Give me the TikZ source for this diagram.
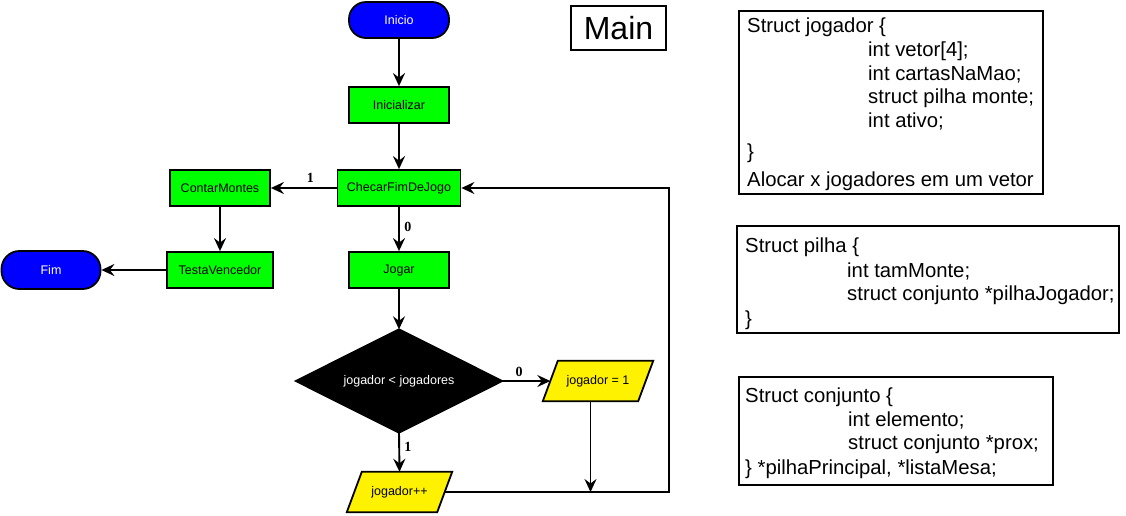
\documentclass[tikz,border=0pt]{standalone}
\usepackage{fontspec}
\setmainfont{Liberation Sans}
\newfontfamily\lblfont{Liberation Serif}
\usetikzlibrary{shapes.geometric,arrows.meta,calc}
\pgfdeclarelayer{bg}
\pgfsetlayers{bg,main}
\tikzset{
  base/.style={draw=black,line width=1.8pt,font=\fontsize{12.5}{14}\selectfont,inner sep=0pt},
  term/.style={base,fill=blue,text=white,rounded corners=17pt,minimum width=100,minimum height=36},
  proc/.style={base,fill=green,minimum height=36},
  dec/.style={font=\fontsize{12.5}{14}\selectfont,text=white,inner sep=0pt,minimum width=206,minimum height=103},
  decfill/.style={draw=black,line width=1.8pt,fill=black},
  io/.style={font=\fontsize{12.5}{14}\selectfont,inner sep=0pt,minimum height=40},
  iofill/.style={draw=black,line width=1.8pt,fill=yellow},
  conn/.style={line width=1.9pt,-{Stealth[length=13pt,width=12pt,inset=4.5pt]}},
  lbl/.style={font=\lblfont\bfseries\fontsize{14}{16}\selectfont},
  sbox/.style={draw=black,line width=1.8pt,fill=none},
  stxt/.style={font=\fontsize{20.3}{23}\selectfont,anchor=base west,inner sep=0pt}
}
\begin{document}
\begin{tikzpicture}[x=1pt,y=-1pt]
\useasboundingbox (0,0) rectangle (1126,515);
% flowchart nodes
\node[term] (ini) at (399,20) {Inicio};
\node[proc,minimum width=100] (init) at (399,105) {Inicializar};
\node[proc,minimum width=123] (chk) at (399,188) {ChecarFimDeJogo};
\node[proc,minimum width=100] (cnt) at (220,188) {ContarMontes};
\node[proc,minimum width=106] (tst) at (220,270) {TestaVencedor};
\node[term,minimum width=99,minimum height=38,rounded corners=18pt] (fim) at (51,270) {Fim};
\node[proc,minimum width=100] (jog) at (399,270) {Jogar};
\node[dec] (dia) at (399,381) {jogador < jogadores};
\node[io,minimum width=95] (j1) at (598,381) {jogador = 1};
\node[io,minimum width=90] (jpp) at (399.5,492) {jogador++};
\begin{pgfonlayer}{bg}
\fill[white] (0,0) rectangle (1126,515);
\draw[decfill] (dia.north) -- (dia.east) -- (dia.south) -- (dia.west) -- cycle;
\draw[iofill] ($(j1.north west)+(7.5,0)$) -- ($(j1.north east)+(7.5,0)$) -- ($(j1.south east)+(-7.5,0)$) -- ($(j1.south west)+(-7.5,0)$) -- cycle;
\draw[iofill] ($(jpp.north west)+(7.5,0)$) -- ($(jpp.north east)+(7.5,0)$) -- ($(jpp.south east)+(-7.5,0)$) -- ($(jpp.south west)+(-7.5,0)$) -- cycle;
\end{pgfonlayer}
\coordinate (j1b) at ($(j1.south)+(-7.5,0)$);
\coordinate (m) at (j1b |- jpp.east);
\coordinate (c1) at (669,492);
% connectors
\draw[conn] (ini) -- (init);
\draw[conn] (init) -- (chk);
\draw[conn] (chk) -- node[lbl,above=1pt,pos=0.4] {1} (cnt);
\draw[conn] (chk) -- node[lbl,right=1pt,pos=0.45] {0} (jog);
\draw[conn] (cnt) -- (tst);
\draw[conn] (tst) -- (fim);
\draw[conn] (jog) -- (dia.north);
\draw[conn] (dia.east) -- node[lbl,above=0pt,pos=0.35] {0} (j1.west);
\draw[conn] (dia.south) -- node[lbl,right=1pt,pos=0.35] {1} (jpp.north);
\draw[conn] (j1b) -- (m);
\draw[conn] (jpp.east) -- (c1) |- (chk.east);
% Main
\node[sbox,minimum width=95,minimum height=44,inner sep=0pt,font=\fontsize{32}{34}\selectfont] (main) at (618.5,28) {Main};
% struct boxes
\node[sbox,minimum width=304,minimum height=183,inner sep=0pt] (sj) at (891,102.5) {};
\node[stxt] (sj1) at (747,32) {Struct jogador \{};
\node[stxt] (sj2) at (868,56) {int vetor[4];};
\node[stxt] (sj3) at (868,80) {int cartasNaMao;};
\node[stxt] (sj4) at (868,103) {struct pilha monte;};
\node[stxt] (sj5) at (868,127) {int ativo;};
\node[stxt] (sj6) at (747,158) {\}};
\node[stxt] (sj7) at (747,186) {Alocar x jogadores em um vetor};
\node[sbox,minimum width=382,minimum height=107,inner sep=0pt] (sp) at (928,279.5) {};
\node[stxt] (sp1) at (745,252) {Struct pilha \{};
\node[stxt] (sp2) at (847,277) {int tamMonte;};
\node[stxt] (sp3) at (847,300) {struct conjunto *pilhaJogador;};
\node[stxt] (sp4) at (745,325) {\}};
\node[sbox,minimum width=314,minimum height=108,inner sep=0pt] (sc) at (896,431) {};
\node[stxt] (sc1) at (745,402) {Struct conjunto \{};
\node[stxt] (sc2) at (848,426) {int elemento;};
\node[stxt] (sc3) at (848,449) {struct conjunto *prox;};
\node[stxt] (sc4) at (745,474) {\} *pilhaPrincipal, *listaMesa;};
\end{tikzpicture}
\end{document}
